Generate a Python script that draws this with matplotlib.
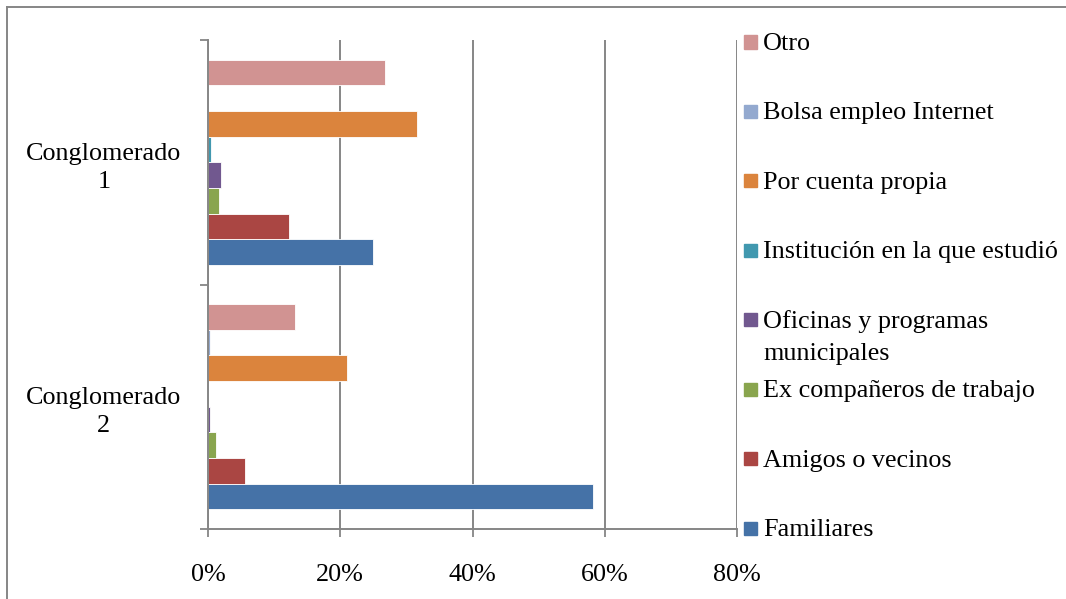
import matplotlib
matplotlib.use("Agg")
import matplotlib.pyplot as plt
from matplotlib.patches import Rectangle
from matplotlib.lines import Line2D
import numpy as np

plt.rcParams['font.family'] = ['Liberation Serif', 'DejaVu Serif']

categories = ["Conglomerado\n2", "Conglomerado\n1"]
series = ["Familiares", "Amigos o vecinos", "Ex compañeros de trabajo",
          "Oficinas y programas municipales", "Institución en la que estudió",
          "Por cuenta propia", "Bolsa empleo Internet", "Otro"]
legend_labels = ["Familiares", "Amigos o vecinos", "Ex compañeros de trabajo",
                 "Oficinas y programas\nmunicipales", "Institución en la que estudió",
                 "Por cuenta propia", "Bolsa empleo Internet", "Otro"]
# values per series: [Conglomerado 2, Conglomerado 1] in percent
familiares = [58.2, 24.9]
amigos = [5.6, 12.3]
ex_companeros = [1.2, 1.6]
oficinas = [0.35, 1.9]
institucion = [0.0, 0.4]
cuenta_propia = [21.0, 31.6]
bolsa = [0.25, 0.0]
otro = [13.1, 26.8]
values = [familiares, amigos, ex_companeros, oficinas, institucion,
          cuenta_propia, bolsa, otro]
colors = ["#4572A7", "#AA4643", "#89A54E", "#71588F", "#4198AF",
          "#DB843D", "#93A9CF", "#D19392"]
xticks = [0, 20, 40, 60, 80]

W, H = 1066, 599
fig = plt.figure(figsize=(W / 100, H / 100), dpi=100)
ax = fig.add_axes([208 / W, (H - 529) / H, (737 - 208) / W, (529 - 40) / H])

fs = 18.8
grid_c = "#868686"
h = 0.105
y = np.arange(len(categories))
for i, (vals, c) in enumerate(zip(values, colors)):
    ax.barh(y + (i - 3.5) * h, vals, height=h, color=c,
            edgecolor="#ffffff", linewidth=0.6, zorder=3)

ax.set_xlim(0, 80)
ax.set_ylim(-0.5, 1.5)
ax.set_xticks(xticks)
ax.set_xticklabels([f"{v}%" for v in xticks], fontsize=fs)
ax.tick_params(axis="x", length=6, width=1.3, color=grid_c, pad=19)
ax.grid(axis="x", color=grid_c, linewidth=1.4, zorder=0)
ax.set_axisbelow(True)

ax.set_yticks(y)
ax.set_yticklabels(categories, fontsize=fs, ha="center", linespacing=1.35)
ax.tick_params(axis="y", which="major", length=0, pad=75)
ax.set_yticks([-0.5, 0.5, 1.5], minor=True)
ax.tick_params(axis="y", which="minor", length=6, width=1.3, color=grid_c)

for s in ["top", "right"]:
    ax.spines[s].set_visible(False)
for s in ["left", "bottom"]:
    ax.spines[s].set_color(grid_c)
    ax.spines[s].set_linewidth(1.4)
    ax.spines[s].set_zorder(4)

# legend (top-down: Otro ... Familiares)
sq = 13
y_top, step = 42, (528 - 42) / 7
for k, idx in enumerate(range(len(series) - 1, -1, -1)):
    yc = y_top + k * step
    fig.patches.append(Rectangle((744 / W, (H - yc - sq / 2) / H), sq / W, sq / H,
                                 transform=fig.transFigure, color=colors[idx]))
    lines = legend_labels[idx].split("\n")
    for j, ln in enumerate(lines):
        fig.text(763 / W, (H - yc - 2 - j * 32) / H, ln, fontsize=fs,
                 va="center", ha="left")

# outer border (top and left edges only visible)
fig.add_artist(Line2D([7 / W, 7 / W], [0, (H - 7) / H], transform=fig.transFigure,
                      color=grid_c, linewidth=1.4))
fig.add_artist(Line2D([7 / W, 1], [(H - 7) / H, (H - 7) / H], transform=fig.transFigure,
                      color=grid_c, linewidth=1.4))

fig.savefig("out.png", dpi=100)
